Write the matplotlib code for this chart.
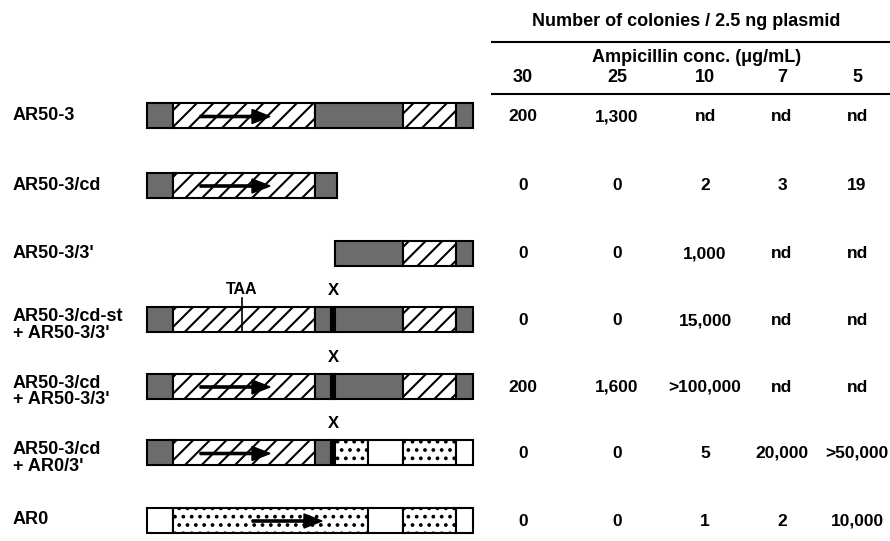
import matplotlib.pyplot as plt
from matplotlib.patches import Rectangle, FancyArrow

plt.rcParams["font.family"] = ["Liberation Sans", "DejaVu Sans"]
plt.rcParams["font.weight"] = "bold"
plt.rcParams["hatch.linewidth"] = 1.5

# constructs, top to bottom
constructs = [
    "AR50-3",
    "AR50-3/cd",
    "AR50-3/3'",
    "AR50-3/cd-st\n+ AR50-3/3'",
    "AR50-3/cd\n+ AR50-3/3'",
    "AR50-3/cd\n+ AR0/3'",
    "AR0",
]

# map segments (start, end, kind) in map units, 0 = left end of AR50-3
segments = [
    [(0, 26, "dark"), (26, 168, "hatch"), (168, 256, "dark"), (256, 309, "hatch"), (309, 326, "dark")],
    [(0, 26, "dark"), (26, 168, "hatch"), (168, 190, "dark")],
    [(188, 256, "dark"), (256, 309, "hatch"), (309, 326, "dark")],
    [(0, 26, "dark"), (26, 168, "hatch"), (168, 184, "dark"), (184, 188, "black"),
     (188, 256, "dark"), (256, 309, "hatch"), (309, 326, "dark")],
    [(0, 26, "dark"), (26, 168, "hatch"), (168, 184, "dark"), (184, 188, "black"),
     (188, 256, "dark"), (256, 309, "hatch"), (309, 326, "dark")],
    [(0, 26, "dark"), (26, 168, "hatch"), (168, 184, "dark"), (184, 188, "black"),
     (188, 221, "dot"), (221, 256, "white"), (256, 309, "dot"), (309, 326, "white")],
    [(0, 26, "white"), (26, 221, "dot"), (221, 256, "white"), (256, 309, "dot"), (309, 326, "white")],
]

# coding direction arrows (start, end) in map units
arrows = [(53, 123), (53, 123), None, None, (53, 123), (53, 123), (105, 175)]
# stop codon and junction markers in map units
stop_codon = [None, None, None, 95, None, None, None]
junction = [None, None, None, 186, 186, 186, None]

conc_labels = ["30", "25", "10", "7", "5"]
colonies = [
    ["200", "1,300", "nd", "nd", "nd"],
    ["0", "0", "2", "3", "19"],
    ["0", "0", "1,000", "nd", "nd"],
    ["0", "0", "15,000", "nd", "nd"],
    ["200", "1,600", ">100,000", "nd", "nd"],
    ["0", "0", "5", "20,000", ">50,000"],
    ["0", "0", "1", "2", "10,000"],
]

# layout (pixels)
W, H = 890, 541
MAP_X0 = 147
BAR_H = 25
row_y = [115.5, 185, 253, 319.5, 386, 452.5, 520]
col_x = [523, 617, 705, 782, 857]

styles = {
    "dark": dict(facecolor="#6c6c6c"),
    "hatch": dict(facecolor="white", hatch="//"),
    "dot": dict(facecolor="white", hatch=".."),
    "white": dict(facecolor="white"),
    "black": dict(facecolor="black"),
}

fig = plt.figure(figsize=(W / 100, H / 100), dpi=100)
ax = fig.add_axes([0, 0, 1, 1])
ax.set_xlim(0, W)
ax.set_ylim(H, 0)
ax.axis("off")

for i, name in enumerate(constructs):
    y = row_y[i]
    lines = name.split("\n")
    if len(lines) == 1:
        ax.text(13, y, lines[0], fontsize=13, ha="left", va="center")
    else:
        ax.text(13, y - 3, lines[0], fontsize=13, ha="left", va="center")
        ax.text(13, y + 14, lines[1], fontsize=13, ha="left", va="center")

    for start, end, kind in segments[i]:
        ax.add_patch(Rectangle((MAP_X0 + start, y - BAR_H / 2), end - start, BAR_H,
                               edgecolor="black", linewidth=1.5, **styles[kind]))

    if arrows[i] is not None:
        a0, a1 = arrows[i]
        ax.add_patch(FancyArrow(MAP_X0 + a0, y + 1, a1 - a0, 0, width=2.2, head_width=14,
                                head_length=18, length_includes_head=True,
                                color="black", zorder=5))

    if stop_codon[i] is not None:
        sx = MAP_X0 + stop_codon[i]
        ax.text(sx, y - 30, "TAA", fontsize=11.5, ha="center", va="center")
        ax.plot([sx, sx], [y - 22, y + BAR_H / 2], color="black", linewidth=1.2)

    if junction[i] is not None:
        ax.text(MAP_X0 + junction[i], y - 29, "X", fontsize=12, ha="center", va="center")

    for j, val in enumerate(colonies[i]):
        ax.text(col_x[j], y + 1, val, fontsize=12.5, ha="center", va="center")

# table header
ax.text(686, 22, "Number of colonies / 2.5 ng plasmid", fontsize=13, ha="center", va="center")
ax.plot([492, 890], [42, 42], color="black", linewidth=1.5)
ax.text(697, 58, "Ampicillin conc. (\u03bcg/mL)", fontsize=13, ha="center", va="center")
for j, lab in enumerate(conc_labels):
    ax.text(col_x[j], 77, lab, fontsize=13, ha="center", va="center")
ax.plot([492, 890], [94, 94], color="black", linewidth=1.5)

fig.savefig("out.png", dpi=100)
